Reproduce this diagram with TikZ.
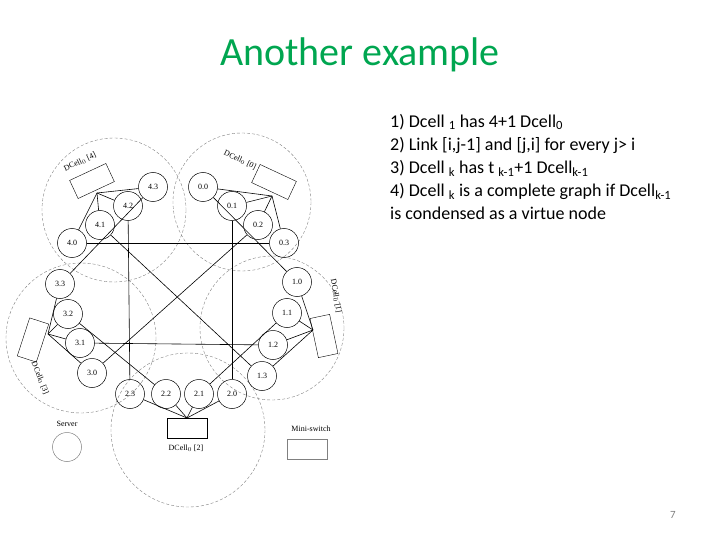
\documentclass[tikz,border=0pt]{standalone}
\usepackage{fontspec}
\setmainfont{Liberation Serif}
\newfontfamily\slidefont{Carlito}
\usetikzlibrary{positioning}
\definecolor{titlegreen}{RGB}{0,166,80}
\tikzset{
  server/.style={circle,draw=black,line width=0.5pt,minimum size=29pt,inner sep=0pt,font=\fontsize{8}{9}\selectfont},
  switchbox/.style={draw,minimum width=40pt,minimum height=20pt,inner sep=0pt},
  cellring/.style={draw,gray,densely dashed,line width=0.4pt},
  cellname/.style={font=\fontsize{8}{9}\selectfont},
  link/.style={line width=0.6pt}
}
\begin{document}
\begin{tikzpicture}[x=1pt,y=-1pt]
\useasboundingbox (0,0) rectangle (720,540);
\node[font=\slidefont\fontsize{40}{44}\selectfont,text=titlegreen] (title) at (360,55) {Another example};
\node[font=\slidefont\fontsize{18}{23}\selectfont,align=left,anchor=north west,inner sep=0pt] (rules) at (390,114)
 {1) Dcell \textsubscript{1} has 4+1 Dcell\textsubscript{0}\\
  2) Link [i,j-1]  and [j,i] for every j> i\\
  3) Dcell \textsubscript{k} has t \textsubscript{k-1}+1 Dcell\textsubscript{k-1}\\
  4) Dcell \textsubscript{k} is a complete graph if  Dcell\textsubscript{k-1}\\
  is condensed as a virtue node};
\node[font=\slidefont\fontsize{11}{12}\selectfont,text=gray] (pagenum) at (673,515) {7};

% DCell_0 rings
\draw[cellring] (114,210) circle (72);
\draw[cellring] (242,202) circle (69);
\draw[cellring] (272,328) circle (72);
\draw[cellring] (188,430) circle (77);
\draw[cellring] (81,338) circle (75);

% mini-switches
\node[switchbox,rotate=25] (sw4) at (92,181) {};
\node[switchbox,rotate=-25] (sw0) at (274,182) {};
\node[switchbox,rotate=-78] (sw1) at (324,336) {};
\node[switchbox] (sw2) at (187,428) {};
\node[switchbox,rotate=72] (sw3) at (33,340) {};
\coordinate (h4) at (97,193);
\coordinate (h0) at (272,196);
\coordinate (h1) at (313,330);
\coordinate (h2) at (187,418);
\coordinate (h3) at (48,334);

\node[cellname,rotate=25] (n4) at (80,162) {DCell$_0$ [4]};
\node[cellname,rotate=-25] (n0) at (240,160) {DCell$_0$ [0]};
\node[cellname,rotate=-80] (n1) at (336,296) {DCell$_0$ [1]};
\node[cellname] (n2) at (186,448) {DCell$_0$ [2]};
\node[cellname,rotate=-68] (n3) at (40,378) {DCell$_0$ [3]};

% servers
\node[server] (s43) at (153,187) {4.3};
\node[server] (s42) at (128,206) {4.2};
\node[server] (s41) at (100,225) {4.1};
\node[server] (s40) at (72,243) {4.0};
\node[server] (s00) at (203,187) {0.0};
\node[server] (s01) at (232,206) {0.1};
\node[server] (s02) at (258,225) {0.2};
\node[server] (s03) at (284,243) {0.3};
\node[server] (s10) at (297,282) {1.0};
\node[server] (s11) at (287,313) {1.1};
\node[server] (s12) at (273,345) {1.2};
\node[server] (s13) at (262,376) {1.3};
\node[server] (s20) at (232,394) {2.0};
\node[server] (s21) at (199,394) {2.1};
\node[server] (s22) at (166,394) {2.2};
\node[server] (s23) at (130,394) {2.3};
\node[server] (s30) at (92,373) {3.0};
\node[server] (s31) at (80,343) {3.1};
\node[server] (s32) at (68,314) {3.2};
\node[server] (s33) at (60,284) {3.3};

% level-0 links
\foreach \cellno in {0,1,2,3,4}
  \foreach \srvno in {0,1,2,3}
    \draw[link] (h\cellno) -- (s\cellno\srvno);

% level-1 links
\draw[link] (s00) -- (s10);
\draw[link] (s01) -- (s20);
\draw[link] (s02) -- (s30);
\draw[link] (s03) -- (s40);
\draw[link] (s11) -- (s21);
\draw[link] (s12) -- (s31);
\draw[link] (s13) -- (s41);
\draw[link] (s22) -- (s32);
\draw[link] (s23) -- (s42);
\draw[link] (s33) -- (s43);

% legend
\node[cellname] (lserver) at (67,424) {Server};
\node[server,draw=gray] (legcircle) at (67,447) {};
\node[cellname] (lswitch) at (311,429) {Mini-switch};
\node[switchbox,draw=gray] (legbox) at (307,449) {};
\end{tikzpicture}
\end{document}
